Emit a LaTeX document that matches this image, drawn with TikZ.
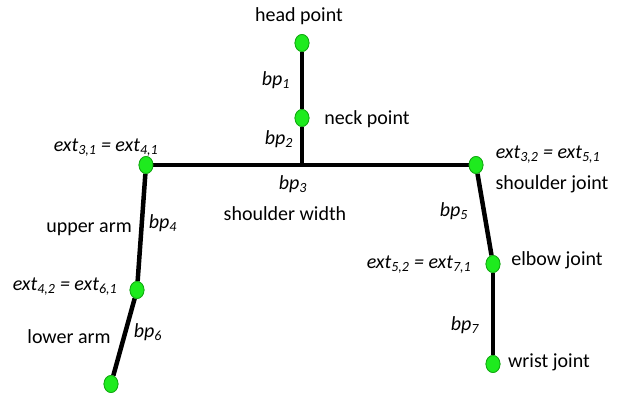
\documentclass[tikz,border=0pt]{standalone}
\usepackage{fontspec}
\setmainfont{Carlito}
\usetikzlibrary{shapes.geometric}
\definecolor{jointfill}{RGB}{30,235,30}
\definecolor{jointline}{RGB}{20,170,20}
\tikzset{
  joint/.style={ellipse, fill=jointfill, draw=jointline, line width=0.8pt,
    minimum width=14pt, minimum height=17pt, inner sep=0pt},
  bone/.style={line width=4.5pt, black},
  lbl/.style={font=\fontsize{20}{24}\selectfont, inner sep=0pt},
  ilbl/.style={lbl, font=\fontsize{20}{24}\selectfont\itshape}
}
\newcommand{\sub}[1]{\textsubscript{#1}}
\begin{document}
\begin{tikzpicture}[x=1pt, y=-1pt]
\useasboundingbox (0,0) rectangle (627,393);
% skeleton points
\coordinate (jn) at (302,165);
\node[joint] (head) at (302,43) {};
\node[joint] (neck) at (302,118) {};
\node[joint] (ls) at (146,165) {};
\node[joint] (rs) at (476,165) {};
\node[joint] (le) at (137,290) {};
\node[joint] (lw) at (111,384) {};
\node[joint] (re) at (493,264) {};
\node[joint] (rw) at (493,364) {};
% bones
\draw[bone] (head) -- (neck);
\draw[bone] (neck) -- (jn);
\draw[bone] (ls) -- (rs);
\draw[bone] (ls) -- (le);
\draw[bone] (le) -- (lw);
\draw[bone] (rs) -- (re);
\draw[bone] (re) -- (rw);
% joints drawn again over the bone ends
\foreach \p in {head,neck,ls,rs,le,lw,re,rw}
  \node[joint] at (\p.center) {};
% labels
\node[lbl] (thead) at (299,16) {head point};
\node[ilbl] (tbp1) at (276,80) {bp\sub{1}};
\node[lbl] (tneck) at (367,119) {neck point};
\node[ilbl] (tbp2) at (279,139) {bp\sub{2}};
\node[ilbl] (tbp3) at (293,184) {bp\sub{3}};
\node[lbl] (tsw) at (285,214) {shoulder width};
\node[ilbl] (text31) at (106,148) {ext\sub{3,1} = ext\sub{4,1}};
\node[ilbl] (text32) at (548,155) {ext\sub{3,2} = ext\sub{5,1}};
\node[lbl] (tsj) at (552,184) {shoulder joint};
\node[ilbl] (tbp5) at (454,211) {bp\sub{5}};
\node[lbl] (tua) at (89,229) {upper arm};
\node[ilbl] (tbp4) at (163,223) {bp\sub{4}};
\node[ilbl] (text52) at (419,265) {ext\sub{5,2} = ext\sub{7,1}};
\node[lbl] (tej) at (557,260) {elbow joint};
\node[ilbl] (text42) at (65,287) {ext\sub{4,2} = ext\sub{6,1}};
\node[lbl] (tla) at (69,337) {lower arm};
\node[ilbl] (tbp6) at (148,332) {bp\sub{6}};
\node[ilbl] (tbp7) at (465,325) {bp\sub{7}};
\node[lbl] (twj) at (549,362) {wrist joint};
\end{tikzpicture}
\end{document}
